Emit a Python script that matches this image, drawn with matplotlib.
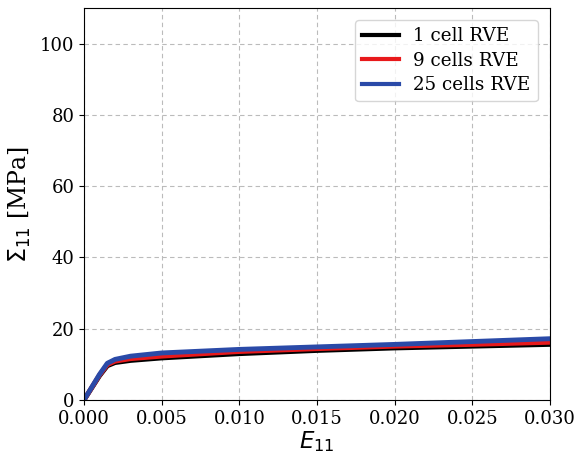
import matplotlib
matplotlib.use("Agg")
import matplotlib.pyplot as plt
import numpy as np

strain = [0.0, 0.0005, 0.001, 0.0015, 0.002, 0.003, 0.005, 0.010, 0.015, 0.020, 0.025, 0.030]
stress_1cell = [0.0, 3.4, 6.8, 9.6, 10.5, 11.1, 11.8, 13.0, 13.9, 14.6, 15.1, 15.6]
stress_9cells = [0.0, 3.5, 7.0, 9.9, 10.9, 11.6, 12.3, 13.6, 14.4, 15.1, 15.6, 16.2]
stress_25cells = [0.0, 3.6, 7.2, 10.3, 11.4, 12.3, 13.2, 14.2, 14.9, 15.6, 16.4, 17.2]
labels = ["1 cell RVE", "9 cells RVE", "25 cells RVE"]
colors = ["black", "#e8191b", "#2a4aa8"]

plt.rcParams['font.family'] = 'DejaVu Serif'
plt.rcParams['mathtext.fontset'] = 'dejavusans'

fig = plt.figure(figsize=(5.78, 4.59), dpi=100)
ax = fig.add_axes([84/578, 59/459, (550-84)/578, (400-8)/459])

for y, lab, c in zip([stress_1cell, stress_9cells, stress_25cells], labels, colors):
    ax.plot(strain, y, color=c, lw=3.5, label=lab, solid_joinstyle='round')

ax.set_xlim(0, 0.030)
ax.set_ylim(0, 110)
ax.set_xticks(np.arange(0, 0.0301, 0.005))
ax.set_yticks(np.arange(0, 101, 20))
ax.tick_params(labelsize=13)
ax.grid(True, linestyle=(0, (4, 3)), color='#bbbbbb', lw=0.8)
ax.set_xlabel(r'$E_{11}$', fontsize=16.5, labelpad=1)
ax.set_ylabel(r'$\Sigma_{11}$ [MPa]', fontsize=17, labelpad=5)
leg = ax.legend(loc='upper right', fontsize=13.2, handlelength=2.0,
                borderaxespad=0.65, labelspacing=0.35)
for l in leg.get_lines():
    l.set_linewidth(3)

fig.savefig('out.png', dpi=100)
